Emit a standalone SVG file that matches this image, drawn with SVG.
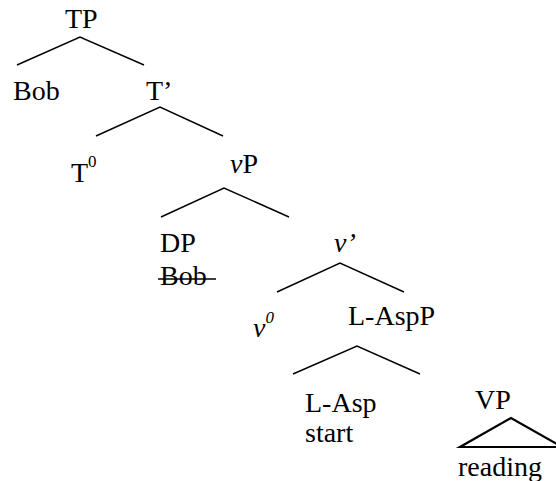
<svg xmlns="http://www.w3.org/2000/svg" width="556" height="481" viewBox="0 0 556 481">
<style>
text{font-family:"Liberation Serif","DejaVu Serif",serif;font-size:28px;fill:#000}
.sup{font-size:17px}
.it{font-style:italic}
line,polygon{stroke:#000;stroke-width:1.4;fill:none}
.tri{stroke-width:2.2}
</style>
<rect width="556" height="481" fill="#fff"/>
<g id="connectors">
<polyline points="17,65 80,37 144,65" fill="none" stroke="#000" stroke-width="1.4"/>
<polyline points="96,136 160,107 223,136" fill="none" stroke="#000" stroke-width="1.4"/>
<polyline points="161,217 224,188 289,217" fill="none" stroke="#000" stroke-width="1.4"/>
<polyline points="277,292 340,263 404,292" fill="none" stroke="#000" stroke-width="1.4"/>
<polyline points="293,374 357,346 420,374" fill="none" stroke="#000" stroke-width="1.4"/>
</g>
<g id="TP"><text x="65" y="28">TP</text></g>
<g id="Bob"><text x="13" y="100">Bob</text></g>
<g id="Tbar"><text x="146" y="100">T’</text></g>
<g id="T0"><text x="71" y="182">T<tspan class="sup" dy="-15">0</tspan></text></g>
<g id="vP"><text x="230" y="173"><tspan class="it">v</tspan>P</text></g>
<g id="DP"><text x="160" y="252">DP</text><text x="160" y="285">Bob</text><line x1="158" y1="279" x2="216" y2="279"/></g>
<g id="vbar"><text x="334" y="252" class="it">v’</text></g>
<g id="v0"><text x="253" y="337" class="it">v<tspan class="sup" dy="-14">0</tspan></text></g>
<g id="LAspP"><text x="348" y="325">L-AspP</text></g>
<g id="LAsp"><text x="305" y="412">L-Asp</text><text x="305" y="442">start</text></g>
<g id="VP"><text x="475" y="409">VP</text><polygon class="tri" points="511,418 460,447 562,447"/><text x="458" y="476">reading</text></g>
</svg>
